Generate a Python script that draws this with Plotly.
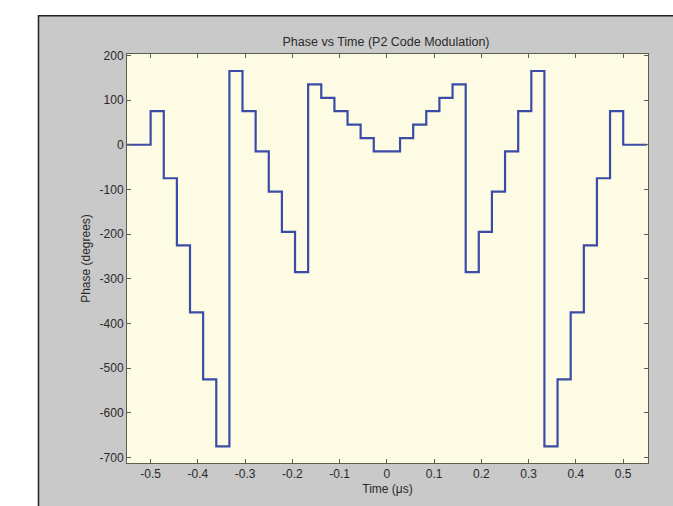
import plotly.graph_objects as go

# Step start times (μs) and phase values (degrees) of P2 code, N=6
time_us = [-0.55, -0.5, -0.4722, -0.4444, -0.4167, -0.3889, -0.3611,
           -0.3333, -0.3056, -0.2778, -0.25, -0.2222, -0.1944,
           -0.1667, -0.1389, -0.1111, -0.0833, -0.0556, -0.0278,
           0.0, 0.0278, 0.0556, 0.0833, 0.1111, 0.1389,
           0.1667, 0.1944, 0.2222, 0.25, 0.2778, 0.3056,
           0.3333, 0.3611, 0.3889, 0.4167, 0.4444, 0.4722,
           0.5, 0.55]
phase_deg = [0, 75, -75, -225, -375, -525, -675,
             165, 75, -15, -105, -195, -285,
             135, 105, 75, 45, 15, -15,
             -15, 15, 45, 75, 105, 135,
             -285, -195, -105, -15, 75, 165,
             -675, -525, -375, -225, -75, 75,
             0, 0]

x_ticks = [-0.5, -0.4, -0.3, -0.2, -0.1, 0, 0.1, 0.2, 0.3, 0.4, 0.5]
x_labels = ["-0.5", "-0.4", "-0.3", "-0.2", "-0.1", "0", "0.1", "0.2", "0.3", "0.4", "0.5"]
y_ticks = [200, 100, 0, -100, -200, -300, -400, -500, -600, -700]
y_labels = ["200", "100", "0", "-100", "-200", "-300", "-400", "-500", "-600", "-700"]

W, H = 673, 506
L, R, T, B = 127, 648, 54, 465
pw, ph = R - L, B - T

def px(X):
    return (X - L) / pw

def py(Y):
    return (B - Y) / ph

fig = go.Figure()
fig.add_trace(go.Scatter(
    x=time_us, y=phase_deg, mode="lines", line_shape="hv",
    line=dict(color="#3b4ca8", width=2.2), showlegend=False, hoverinfo="skip",
))

font = dict(family="Liberation Sans, Arial, sans-serif", size=12, color="#2a2a2a")
axis_common = dict(
    showgrid=False, zeroline=False, showline=True, linecolor="#5e5e50", linewidth=1,
    mirror="allticks", ticks="inside", ticklen=4, tickcolor="#5e5e50",
    tickfont=font,
)

fig.update_layout(
    width=W, height=H,
    margin=dict(l=L, r=W - R, t=T, b=H - B, pad=0),
    paper_bgcolor="#c9c9c9",
    plot_bgcolor="#fdfbe3",
    title=dict(text="Phase vs Time (P2 Code Modulation)", x=px(386), xref="paper",
               y=1 - 42 / H, yref="container", xanchor="center", yanchor="middle",
               font=dict(family="Liberation Sans, Arial, sans-serif", size=12.5, color="#2a2a2a")),
    xaxis=dict(range=[-0.55, 0.5525], tickvals=x_ticks, ticktext=x_labels,
               title=dict(text="Time (μs)", font=font, standoff=4), **axis_common),
    yaxis=dict(range=[-712, 203], tickvals=y_ticks, ticktext=y_labels,
               title=dict(text="Phase (degrees)", font=font, standoff=6), **axis_common),
    shapes=[
        # white page margin above and left of the grey figure window
        dict(type="rect", xref="paper", yref="paper", x0=px(-5), x1=px(W + 5),
             y0=py(15), y1=py(-5), fillcolor="white", line=dict(width=0), layer="below"),
        dict(type="rect", xref="paper", yref="paper", x0=px(-5), x1=px(38),
             y0=py(H + 5), y1=py(-5), fillcolor="white", line=dict(width=0), layer="below"),
        # dark window border
        dict(type="line", xref="paper", yref="paper", x0=px(38), x1=px(W + 5),
             y0=py(15.5), y1=py(15.5), line=dict(color="#222222", width=1.5)),
        dict(type="line", xref="paper", yref="paper", x0=px(38.5), x1=px(38.5),
             y0=py(15), y1=py(H + 5), line=dict(color="#222222", width=1.5)),
    ],
)

fig.write_html("out.html")
